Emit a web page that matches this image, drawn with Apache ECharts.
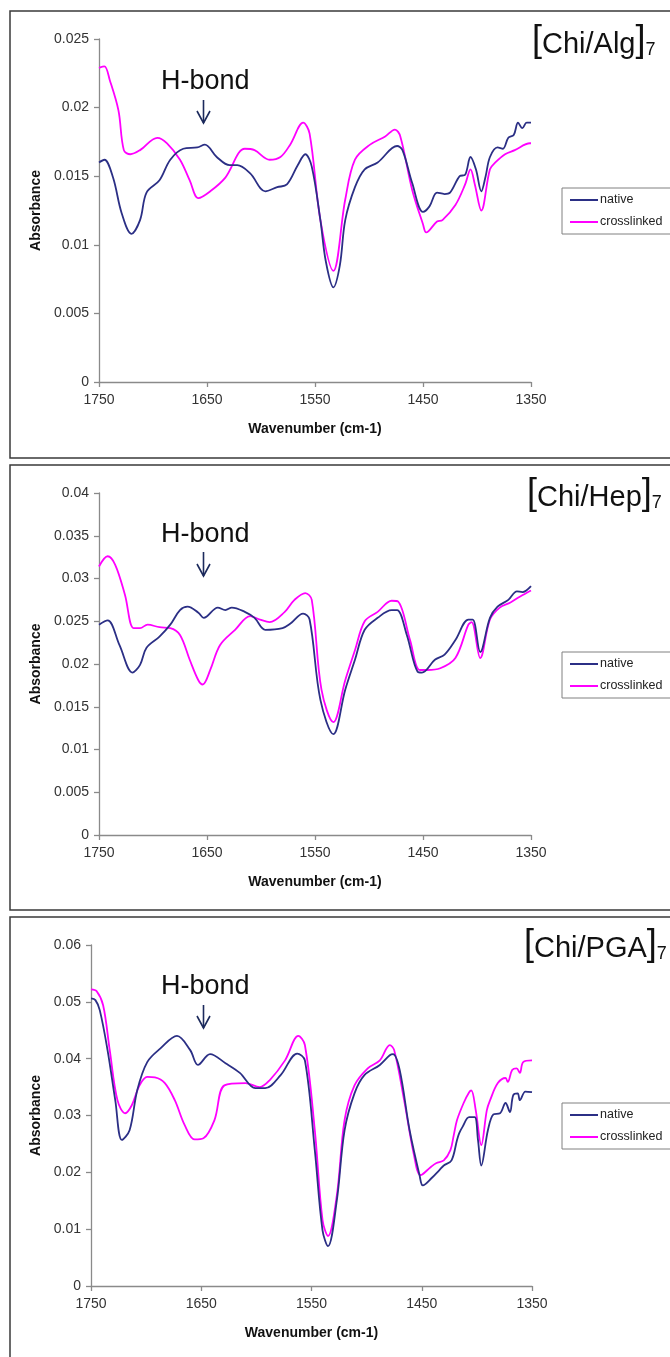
<!DOCTYPE html>
<html>
<head>
<meta charset="utf-8">
<script src="https://cdn.jsdelivr.net/npm/echarts@6/dist/echarts.min.js"></script>
<style>
html,body{margin:0;padding:0;background:#fff;}
#chart{width:670px;height:1357px;}
</style>
</head>
<body>
<div id="chart"></div>
<script>
// ---------- data ----------
const xTicks = [1750, 1650, 1550, 1450, 1350];
const seriesNames = ['native', 'crosslinked'];
const panelTitles = ['Chi/Alg', 'Chi/Hep', 'Chi/PGA'];

// Panel 1: [Chi/Alg]7
const algNativeWave = [1750,1745,1737,1729,1720,1712,1706,1694,1684,1672,1659,1652,1641,1629,1622,1610,1596,1585,1576,1566,1559,1553,1545,1540,1533,1527,1522,1513,1504,1492,1474,1469,1460,1450,1444,1437,1430,1425,1416,1411,1406,1401,1396,1392,1388,1381,1376,1371,1366,1362,1358,1354,1350];
const algNativeAbs  = [0.0160,0.0162,0.0149,0.0123,0.0108,0.0118,0.0138,0.0147,0.0162,0.0170,0.0171,0.0173,0.0164,0.0158,0.0158,0.0152,0.0139,0.0142,0.0144,0.0158,0.0166,0.0157,0.0118,0.0088,0.0069,0.0085,0.0118,0.0142,0.0155,0.0160,0.0172,0.0169,0.0145,0.0124,0.0128,0.0138,0.0137,0.0138,0.0150,0.0151,0.0164,0.0155,0.0139,0.0150,0.0164,0.0171,0.0170,0.0178,0.0180,0.0189,0.0185,0.0189,0.0189];
const algCrossWave = [1750,1745,1740,1732,1727,1721,1712,1696,1687,1675,1666,1658,1647,1633,1615,1606,1592,1582,1573,1561,1555,1545,1533,1522,1513,1499,1485,1476,1471,1460,1450,1447,1437,1432,1420,1411,1406,1402,1396,1388,1383,1374,1365,1351,1350];
const algCrossAbs  = [0.0229,0.0230,0.0220,0.0198,0.0169,0.0166,0.0169,0.0178,0.0174,0.0162,0.0147,0.0134,0.0139,0.0149,0.0170,0.0169,0.0162,0.0164,0.0173,0.0189,0.0181,0.0118,0.0081,0.0133,0.0162,0.0173,0.0179,0.0184,0.0179,0.0140,0.0115,0.0109,0.0117,0.0118,0.0129,0.0144,0.0155,0.0144,0.0125,0.0155,0.0160,0.0166,0.0169,0.0174,0.0174];

// Panel 2: [Chi/Hep]7
const hepNativeWave = [1750,1742,1731,1719,1712,1706,1694,1684,1675,1668,1658,1653,1640,1633,1627,1615,1606,1596,1580,1573,1561,1555,1545,1533,1522,1513,1504,1492,1479,1474,1465,1455,1451,1439,1430,1420,1408,1404,1397,1388,1381,1371,1363,1358,1350];
const hepNativeAbs  = [0.0246,0.0251,0.0222,0.0190,0.0199,0.0219,0.0232,0.0246,0.0263,0.0267,0.0260,0.0254,0.0266,0.0263,0.0266,0.0261,0.0254,0.0240,0.0242,0.0247,0.0259,0.0252,0.0158,0.0118,0.0170,0.0205,0.0240,0.0254,0.0263,0.0263,0.0234,0.0191,0.0190,0.0205,0.0211,0.0228,0.0252,0.0252,0.0214,0.0254,0.0267,0.0275,0.0285,0.0284,0.0291];
const hepCrossWave = [1750,1742,1735,1726,1718,1712,1705,1694,1684,1675,1666,1658,1654,1647,1638,1624,1610,1601,1592,1578,1569,1559,1553,1544,1533,1522,1513,1504,1492,1479,1473,1462,1453,1446,1434,1420,1408,1405,1397,1388,1379,1369,1360,1350];
const hepCrossAbs  = [0.0314,0.0326,0.0316,0.0281,0.0242,0.0242,0.0246,0.0243,0.0242,0.0234,0.0205,0.0181,0.0176,0.0193,0.0222,0.0240,0.0256,0.0252,0.0249,0.0261,0.0275,0.0283,0.0275,0.0170,0.0132,0.0181,0.0216,0.0250,0.0261,0.0274,0.0273,0.0228,0.0193,0.0193,0.0195,0.0207,0.0246,0.0249,0.0207,0.0252,0.0266,0.0272,0.0279,0.0286];

// Panel 3: [Chi/PGA]7
const pgaNativeWave = [1750,1746,1742,1735,1728,1722,1715,1708,1699,1687,1672,1660,1653,1642,1628,1615,1601,1592,1578,1563,1556,1547,1540,1535,1527,1520,1511,1502,1488,1479,1476,1470,1461,1452,1449,1441,1434,1430,1423,1418,1416,1413,1407,1402,1399,1396,1390,1385,1379,1374,1370,1367,1363,1361,1356,1350];
const pgaNativeAbs  = [0.0506,0.0503,0.0485,0.0415,0.0327,0.0257,0.0274,0.0345,0.0394,0.0418,0.0440,0.0415,0.0389,0.0408,0.0392,0.0375,0.0348,0.0348,0.0371,0.0409,0.0397,0.0239,0.0098,0.0070,0.0151,0.0274,0.0339,0.0371,0.0389,0.0406,0.0408,0.0380,0.0274,0.0195,0.0177,0.0190,0.0204,0.0212,0.0221,0.0257,0.0269,0.0280,0.0297,0.0297,0.0257,0.0212,0.0274,0.0302,0.0304,0.0322,0.0306,0.0336,0.0339,0.0327,0.0342,0.0341];
const pgaCrossWave = [1750,1745,1739,1733,1726,1719,1713,1706,1699,1692,1683,1674,1665,1656,1648,1638,1629,1610,1597,1588,1574,1562,1556,1547,1540,1535,1527,1520,1511,1499,1488,1479,1475,1466,1457,1451,1442,1437,1430,1424,1421,1418,1412,1407,1405,1401,1396,1391,1388,1381,1374,1372,1368,1364,1361,1358,1350];
const pgaCrossAbs  = [0.0522,0.0519,0.0494,0.0415,0.0327,0.0304,0.0318,0.0353,0.0368,0.0367,0.0357,0.0327,0.0283,0.0258,0.0260,0.0292,0.0353,0.0357,0.0350,0.0362,0.0397,0.0440,0.0424,0.0274,0.0116,0.0088,0.0160,0.0292,0.0353,0.0383,0.0397,0.0424,0.0415,0.0327,0.0230,0.0195,0.0209,0.0216,0.0221,0.0239,0.0265,0.0292,0.0322,0.0341,0.0344,0.0309,0.0248,0.0309,0.0327,0.0357,0.0366,0.0359,0.0380,0.0383,0.0375,0.0394,0.0397];

const yMax = [0.025, 0.04, 0.06];
const yInterval = [0.005, 0.005, 0.01];

// ---------- layout ----------
const FONT = '"Liberation Sans", Arial, sans-serif';
const NAVY = '#2b2f85';
const MAGENTA = '#ff00ff';
const panels = [
  { box: [10, 11, 700, 447], grid: { left: 99, top: 39, width: 432, height: 343 }, nameGapY: 54, legendTop: 188, titleX: 532, titleY: 45, hY: 88, arrowY: [100, 123] },
  { box: [10, 465, 700, 445], grid: { left: 99, top: 493, width: 432, height: 342 }, nameGapY: 54, legendTop: 652, titleX: 527, titleY: 498, hY: 541, arrowY: [552, 576] },
  { box: [10, 917, 700, 460], grid: { left: 91, top: 945, width: 441, height: 341 }, nameGapY: 46, legendTop: 1103, titleX: 524, titleY: 949, hY: 993, arrowY: [1005, 1028] }
];
const seriesData = [
  [[algNativeWave, algNativeAbs], [algCrossWave, algCrossAbs]],
  [[hepNativeWave, hepNativeAbs], [hepCrossWave, hepCrossAbs]],
  [[pgaNativeWave, pgaNativeAbs], [pgaCrossWave, pgaCrossAbs]]
];

const zip = (xs, ys) => xs.map((x, i) => [x, ys[i]]);

const grids = [], xAxes = [], yAxes = [], series = [], legends = [], graphics = [];
panels.forEach((p, i) => {
  grids.push(p.grid);
  xAxes.push({
    type: 'value', gridIndex: i, min: xTicks[4], max: xTicks[0], interval: 100, inverse: true,
    name: 'Wavenumber (cm-1)', nameLocation: 'middle', nameGap: 40,
    nameTextStyle: { fontFamily: FONT, fontSize: 14, fontWeight: 'bold', color: '#111' },
    axisLine: { onZero: false, lineStyle: { color: '#8a8a8a', width: 1.3 } },
    axisTick: { length: 5, lineStyle: { color: '#8a8a8a', width: 1.3 } },
    axisLabel: { fontFamily: FONT, fontSize: 14, color: '#333', margin: 11, formatter: v => String(v) },
    splitLine: { show: false }
  });
  yAxes.push({
    type: 'value', gridIndex: i, min: 0, max: yMax[i], interval: yInterval[i],
    name: 'Absorbance', nameLocation: 'middle', nameGap: p.nameGapY, nameRotate: 90,
    nameTextStyle: { fontFamily: FONT, fontSize: 14, fontWeight: 'bold', color: '#111' },
    axisLine: { show: true, lineStyle: { color: '#8a8a8a', width: 1.3 } },
    axisTick: { show: true, length: 5, lineStyle: { color: '#8a8a8a', width: 1.3 } },
    axisLabel: { fontFamily: FONT, fontSize: 14, color: '#333', margin: 10 },
    splitLine: { show: false }
  });
  seriesData[i].forEach((d, k) => {
    series.push({
      type: 'line', name: seriesNames[k], xAxisIndex: i, yAxisIndex: i,
      data: zip(d[0], d[1]), showSymbol: false, symbol: 'none', smooth: 0.35,
      lineStyle: { color: k === 0 ? NAVY : MAGENTA, width: 1.8 },
      itemStyle: { color: k === 0 ? NAVY : MAGENTA },
      z: k === 0 ? 3 : 2, silent: true
    });
  });
  legends.push({
    data: seriesNames, orient: 'vertical', left: 562, top: p.legendTop,
    padding: [5, 20, 5, 8], itemGap: 8, itemWidth: 28, itemHeight: 2, icon: 'rect',
    borderColor: '#808080', borderWidth: 1, selectedMode: false,
    textStyle: { fontFamily: FONT, fontSize: 12.5, color: '#222', lineHeight: 14, padding: [0, 0, 0, -3] }
  });
  // panel frame
  graphics.push({ type: 'rect', shape: { x: p.box[0], y: p.box[1], width: p.box[2], height: p.box[3] },
    style: { fill: 'none', stroke: '#3a3a3a', lineWidth: 1.5 }, z: -10 });
  // panel title
  graphics.push({ type: 'text', left: p.titleX, top: p.titleY - 22, style: {
    text: '{b|[}{t|' + panelTitles[i] + '}{b|]}{s|7}',
    rich: {
      b: { fontFamily: FONT, fontSize: 36, fill: '#111', verticalAlign: 'bottom', lineHeight: 40 },
      t: { fontFamily: FONT, fontSize: 29, fill: '#111', verticalAlign: 'bottom', lineHeight: 36 },
      s: { fontFamily: FONT, fontSize: 18, fill: '#111', verticalAlign: 'bottom', lineHeight: 28 }
    }
  } });
  // H-bond annotation
  graphics.push({ type: 'text', left: 161, top: p.hY - 20, style: {
    text: 'H-bond', fontFamily: FONT, fontSize: 27, fill: '#111'
  } });
  graphics.push({ type: 'polyline', shape: { points: [[203.5, p.arrowY[0]], [203.5, p.arrowY[1]]] },
    style: { stroke: '#1c2a5c', lineWidth: 1.6, fill: 'none' } });
  graphics.push({ type: 'polyline', shape: { points: [[197, p.arrowY[1] - 12], [203.5, p.arrowY[1]], [210, p.arrowY[1] - 12]] },
    style: { stroke: '#1c2a5c', lineWidth: 1.6, fill: 'none' } });
});

const chart = echarts.init(document.getElementById('chart'), null, { renderer: 'canvas' });
chart.setOption({
  backgroundColor: '#fff',
  animation: false,
  grid: grids, xAxis: xAxes, yAxis: yAxes, series: series, legend: legends,
  graphic: graphics
});
</script>
</body>
</html>
